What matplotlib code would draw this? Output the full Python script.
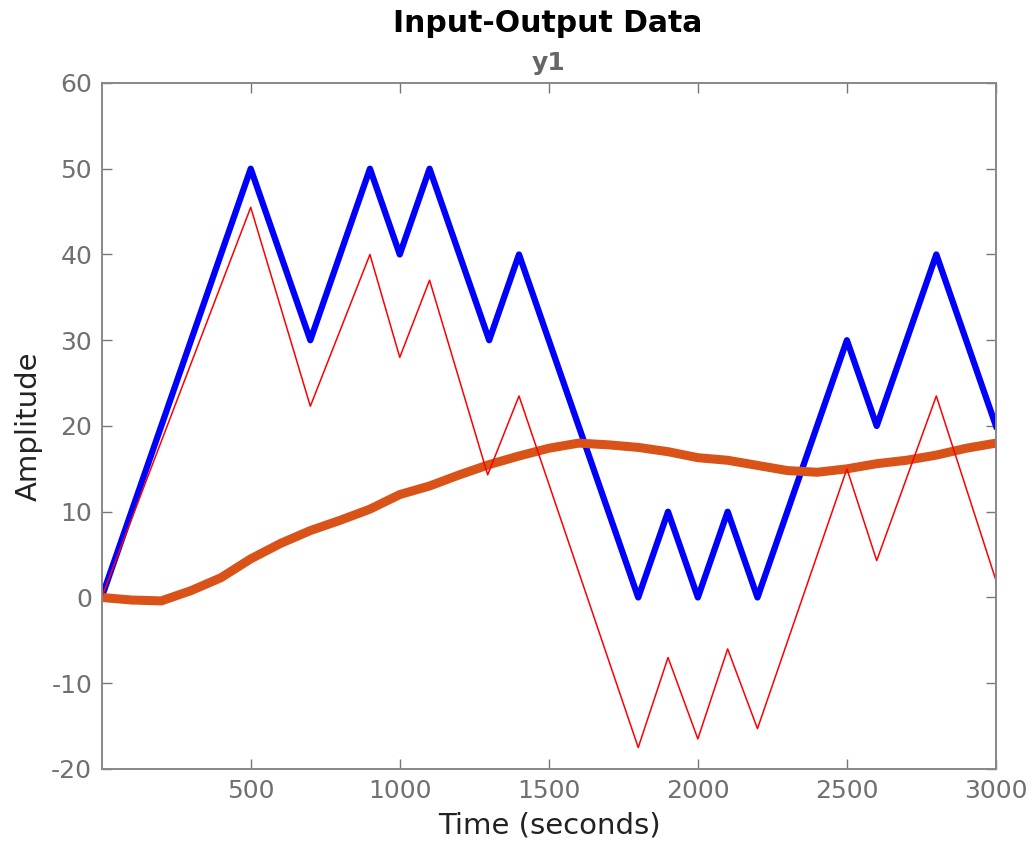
import matplotlib.pyplot as plt

t_meas = [0, 500, 700, 900, 1000, 1100, 1300, 1400, 1800, 1900, 2000, 2100, 2200, 2500, 2600, 2800, 3000]
y_meas = [0, 50, 30, 50, 40, 50, 30, 40, 0, 10, 0, 10, 0, 30, 20, 40, 20]

# Vertices of the red trace
t_red = [0, 500, 700, 900, 1000, 1100, 1295, 1400, 1800, 1900, 2000, 2100, 2200, 2500, 2600, 2800, 3000]
y_red = [0, 45.5, 22.3, 40, 28, 37, 14.3, 23.5, -17.5, -7, -16.5, -6, -15.3, 15, 4.3, 23.5, 2]

# Slow orange trace, sampled every 100 s
t_slow = [0, 100, 200, 300, 400, 500, 600, 700, 800, 900, 1000, 1100, 1200, 1300, 1400, 1500,
          1600, 1700, 1800, 1900, 2000, 2100, 2200, 2300, 2400, 2500, 2600, 2700, 2800, 2900, 3000]
y_slow = [0, -0.3, -0.4, 0.8, 2.3, 4.5, 6.3, 7.8, 9.0, 10.3, 12.0, 13.0, 14.3, 15.5, 16.5, 17.4,
          18.0, 17.8, 17.5, 17.0, 16.3, 16.0, 15.4, 14.8, 14.6, 15.0, 15.6, 16.0, 16.6, 17.4, 18.0]

xticks = [500, 1000, 1500, 2000, 2500, 3000]
yticks = [-20, -10, 0, 10, 20, 30, 40, 50, 60]

plt.rcParams['font.family'] = ['DejaVu Sans']
plt.rcParams['axes.unicode_minus'] = False
fig = plt.figure(figsize=(10.34, 8.51), dpi=100)
ax = fig.add_axes([0.0986, 0.0964, 0.8646, 0.8061])

ax.plot(t_meas, y_meas, color='#0000FF', linewidth=4.5)
ax.plot(t_slow, y_slow, color='#D95319', linewidth=6.5)
ax.plot(t_red, y_red, color='#FF0000', linewidth=1.1)

ax.set_xlim(1, 3000)
ax.set_ylim(-20, 60)
ax.set_xticks(xticks)
ax.set_yticks(yticks)
ax.tick_params(direction='in', length=7, width=1, colors='#777777', labelcolor='#707070',
               labelsize=18, top=True, right=True, pad=7)
for s in ax.spines.values():
    s.set_color('#888888')
    s.set_linewidth(1.4)

ax.set_xlabel('Time (seconds)', fontsize=21, color='#222222', labelpad=6)
ax.set_ylabel('Amplitude', fontsize=21, color='#222222', labelpad=6)
ax.set_title('y1', fontsize=18, fontweight='bold', color='#666666', pad=9)
fig.text(0.53, 0.972, 'Input-Output Data', ha='center', va='center', fontsize=21.5,
         fontweight='bold', color='black')

plt.savefig('out.png', dpi=100)
